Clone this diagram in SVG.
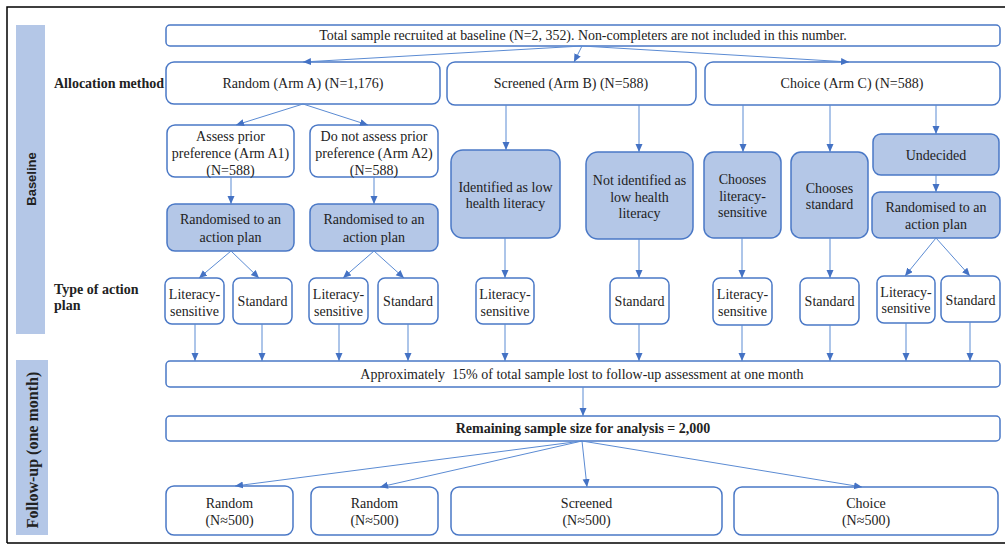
<svg xmlns="http://www.w3.org/2000/svg" width="1005" height="544" viewBox="0 0 1005 544">
<defs>
<marker id="ah" markerUnits="userSpaceOnUse" markerWidth="9" markerHeight="8" refX="8" refY="3.5" orient="auto">
<path d="M0,0 L8,3.5 L0,7 z" fill="#4472C4"/>
</marker>
</defs>
<style>
.b{fill:#fff;stroke:#4A78C6;stroke-width:1.5}
.f{fill:#B4C7E7;stroke:#4A78C6;stroke-width:1.5}
.band{fill:#B4C7E7}
text{font-family:"Liberation Serif","Times New Roman",serif;font-size:14px;fill:#222;text-anchor:middle}
.lbl{font-weight:bold;text-anchor:start}
.c line{stroke:#5B8BD3;stroke-width:1;marker-end:url(#ah)}
</style>
<rect width="1005" height="544" fill="#fff"/>
<path d="M7,543 V7 H1005 M7,543 H1005" fill="none" stroke="#000" stroke-width="1.5"/>
<g id="band-baseline">
<rect class="band" x="16" y="25" width="29" height="309"/>
<text transform="translate(36,179) rotate(-90)" style="font-family:'Liberation Sans',Arial,sans-serif;font-weight:bold;font-size:13px">Baseline</text>
</g>
<g id="band-followup">
<rect class="band" x="16" y="360" width="32" height="175"/>
<text transform="translate(38,450) rotate(-90)" style="font-weight:bold;font-size:16px">Follow-up (one month)</text>
</g>
<g id="label-allocation"><text class="lbl" x="54" y="88">Allocation method</text></g>
<g id="label-type"><text class="lbl" x="54" y="294">Type of action</text><text class="lbl" x="54" y="310">plan</text></g>

<g id="n-total"><rect class="b" x="166" y="25" width="834" height="21" rx="4"/><text x="583" y="40" style="font-size:13.9px">Total sample recruited at baseline (N=2, 352). Non-completers are not included in this number.</text></g>
<g id="n-random"><rect class="b" x="166" y="62" width="274" height="42" rx="8"/><text x="303" y="88">Random (Arm A) (N=1,176)</text></g>
<g id="n-screened"><rect class="b" x="447" y="62" width="249" height="43" rx="8"/><text x="571" y="88">Screened (Arm B) (N=588)</text></g>
<g id="n-choice"><rect class="b" x="705" y="62" width="295" height="43" rx="8"/><text x="852" y="88">Choice (Arm C) (N=588)</text></g>

<g id="n-a1"><rect class="b" x="167" y="125" width="127" height="52" rx="8"/><text x="230.5" y="141">Assess prior</text><text x="230.5" y="158">preference (Arm A1)</text><text x="230.5" y="175">(N=588)</text></g>
<g id="n-a2"><rect class="b" x="310" y="125" width="128" height="52" rx="8"/><text x="374" y="141">Do not assess prior</text><text x="374" y="158">preference (Arm A2)</text><text x="374" y="175">(N=588)</text></g>
<g id="n-randa1"><rect class="f" x="167" y="204" width="127" height="47" rx="8"/><text x="230.5" y="224">Randomised to an</text><text x="230.5" y="242">action plan</text></g>
<g id="n-randa2"><rect class="f" x="310" y="204" width="128" height="47" rx="8"/><text x="374" y="224">Randomised to an</text><text x="374" y="242">action plan</text></g>

<g id="n-ident"><rect class="f" x="451" y="150" width="109" height="88" rx="12"/><text x="505.5" y="192">Identified as low</text><text x="505.5" y="208">health literacy</text></g>
<g id="n-notident"><rect class="f" x="586" y="152" width="107" height="87" rx="12"/><text x="639.5" y="185">Not identified as</text><text x="639.5" y="202">low health</text><text x="639.5" y="218">literacy</text></g>
<g id="n-chlit"><rect class="f" x="704" y="152" width="77" height="86" rx="10"/><text x="742.5" y="184">Chooses</text><text x="742.5" y="201">literacy-</text><text x="742.5" y="217">sensitive</text></g>
<g id="n-chstd"><rect class="f" x="791" y="152" width="77" height="86" rx="10"/><text x="829.5" y="193">Chooses</text><text x="829.5" y="209">standard</text></g>
<g id="n-undecided"><rect class="f" x="873" y="134" width="126" height="41" rx="8"/><text x="936" y="160">Undecided</text></g>
<g id="n-randc"><rect class="f" x="872" y="192" width="128" height="46" rx="8"/><text x="936" y="212">Randomised to an</text><text x="936" y="229">action plan</text></g>

<g id="n-lit-a1"><rect class="b" x="165" y="278" width="59" height="46" rx="7"/><text x="194.5" y="299">Literacy-</text><text x="194.5" y="316">sensitive</text></g>
<g id="n-std-a1"><rect class="b" x="233" y="278" width="59" height="46" rx="7"/><text x="262.5" y="306">Standard</text></g>
<g id="n-lit-a2"><rect class="b" x="309" y="278" width="59" height="46" rx="7"/><text x="338.5" y="299">Literacy-</text><text x="338.5" y="316">sensitive</text></g>
<g id="n-std-a2"><rect class="b" x="378" y="278" width="60" height="46" rx="7"/><text x="408" y="306">Standard</text></g>
<g id="n-lit-b"><rect class="b" x="476" y="278" width="58" height="46" rx="7"/><text x="505" y="299">Literacy-</text><text x="505" y="316">sensitive</text></g>
<g id="n-std-b"><rect class="b" x="610" y="278" width="59" height="46" rx="7"/><text x="639.5" y="306">Standard</text></g>
<g id="n-lit-c1"><rect class="b" x="713" y="278" width="59" height="47" rx="7"/><text x="742.5" y="299">Literacy-</text><text x="742.5" y="316">sensitive</text></g>
<g id="n-std-c1"><rect class="b" x="800" y="278" width="59" height="47" rx="7"/><text x="829.5" y="306">Standard</text></g>
<g id="n-lit-c2"><rect class="b" x="877" y="276" width="58" height="47" rx="7"/><text x="906" y="297">Literacy-</text><text x="906" y="313">sensitive</text></g>
<g id="n-std-c2"><rect class="b" x="941" y="276" width="59" height="46" rx="7"/><text x="970.5" y="305">Standard</text></g>

<g id="n-approx"><rect class="b" x="166" y="361" width="834" height="26" rx="4"/><text x="582" y="379" xml:space="preserve">Approximately  15% of total sample lost to follow-up assessment at one month</text></g>
<g id="n-remaining"><rect class="b" x="166" y="416" width="834" height="25" rx="4"/><text x="583" y="433" style="font-weight:bold">Remaining sample size for analysis = 2,000</text></g>

<g id="n-f-random1"><rect class="b" x="166" y="486" width="127" height="49" rx="8"/><text x="229.5" y="508">Random</text><text x="229.5" y="525">(N≈500)</text></g>
<g id="n-f-random2"><rect class="b" x="311" y="487" width="127" height="48" rx="8"/><text x="374.5" y="508">Random</text><text x="374.5" y="525">(N≈500)</text></g>
<g id="n-f-screened"><rect class="b" x="451" y="487" width="271" height="48" rx="8"/><text x="586.5" y="508">Screened</text><text x="586.5" y="525">(N≈500)</text></g>
<g id="n-f-choice"><rect class="b" x="734" y="487" width="264" height="48" rx="8"/><text x="866" y="508">Choice</text><text x="866" y="525">(N≈500)</text></g>

<g id="connectors" class="c">
<line x1="582" y1="46" x2="303" y2="62"/>
<line x1="582" y1="46" x2="574" y2="62"/>
<line x1="582" y1="46" x2="849" y2="62"/>
<line x1="303" y1="104" x2="236" y2="125"/>
<line x1="303" y1="104" x2="368" y2="125"/>
<line x1="231" y1="177" x2="231" y2="204"/>
<line x1="374" y1="177" x2="374" y2="204"/>
<line x1="231" y1="251" x2="199" y2="278"/>
<line x1="231" y1="251" x2="259" y2="278"/>
<line x1="374" y1="251" x2="343" y2="278"/>
<line x1="374" y1="251" x2="404" y2="278"/>
<line x1="506" y1="105" x2="506" y2="150"/>
<line x1="639" y1="105" x2="639" y2="152"/>
<line x1="743" y1="105" x2="743" y2="152"/>
<line x1="830" y1="105" x2="830" y2="152"/>
<line x1="936" y1="105" x2="936" y2="134"/>
<line x1="936" y1="175" x2="936" y2="192"/>
<line x1="936" y1="238" x2="905" y2="276"/>
<line x1="936" y1="238" x2="970" y2="276"/>
<line x1="505" y1="238" x2="505" y2="278"/>
<line x1="639" y1="239" x2="639" y2="278"/>
<line x1="742" y1="238" x2="742" y2="278"/>
<line x1="830" y1="238" x2="830" y2="278"/>
<line x1="195" y1="324" x2="195" y2="361"/>
<line x1="262" y1="324" x2="262" y2="361"/>
<line x1="339" y1="324" x2="339" y2="361"/>
<line x1="408" y1="324" x2="408" y2="361"/>
<line x1="505" y1="324" x2="505" y2="361"/>
<line x1="639" y1="324" x2="639" y2="361"/>
<line x1="742" y1="325" x2="742" y2="361"/>
<line x1="830" y1="325" x2="830" y2="361"/>
<line x1="906" y1="323" x2="906" y2="361"/>
<line x1="970" y1="322" x2="970" y2="361"/>
<line x1="583" y1="387" x2="583" y2="416"/>
<line x1="582" y1="441" x2="235" y2="486"/>
<line x1="582" y1="441" x2="380" y2="487"/>
<line x1="582" y1="441" x2="587" y2="487"/>
<line x1="582" y1="441" x2="862" y2="487"/>
</g>
</svg>
